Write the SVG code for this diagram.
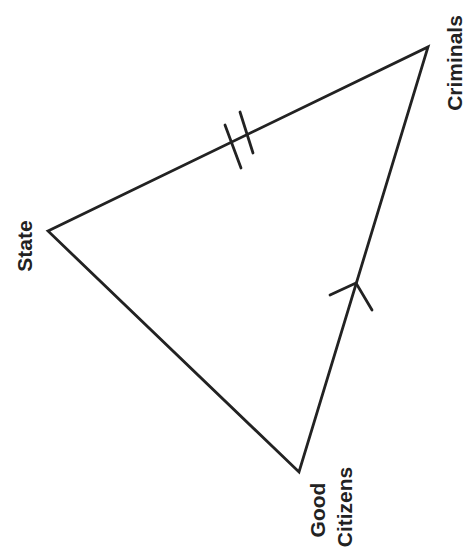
<svg xmlns="http://www.w3.org/2000/svg" width="465" height="554" viewBox="0 0 465 554">
<style>
.ln{stroke:#222;stroke-width:2.8;fill:none;stroke-linecap:round;stroke-linejoin:miter}
.lb{font-family:"Liberation Sans",Arial,sans-serif;font-size:21px;font-weight:bold;fill:#222;text-anchor:middle}
</style>
<rect width="465" height="554" fill="#fff"/>
<g id="connectors">
<path class="ln" d="M48,231 L428,47 L299,472 Z"/>
<path class="ln" d="M225,125 L241,168 M240,112 L253,153"/>
<path class="ln" d="M330,295 L356,283 L372,310"/>
</g>
<g id="state"><text class="lb" transform="translate(32,246) rotate(-90)">State</text></g>
<g id="criminals"><text class="lb" transform="translate(462,63) rotate(-90)">Criminals</text></g>
<g id="good-citizens"><text class="lb" transform="translate(325,510) rotate(-90)">Good</text><text class="lb" transform="translate(352,507) rotate(-90)">Citizens</text></g>
</svg>
